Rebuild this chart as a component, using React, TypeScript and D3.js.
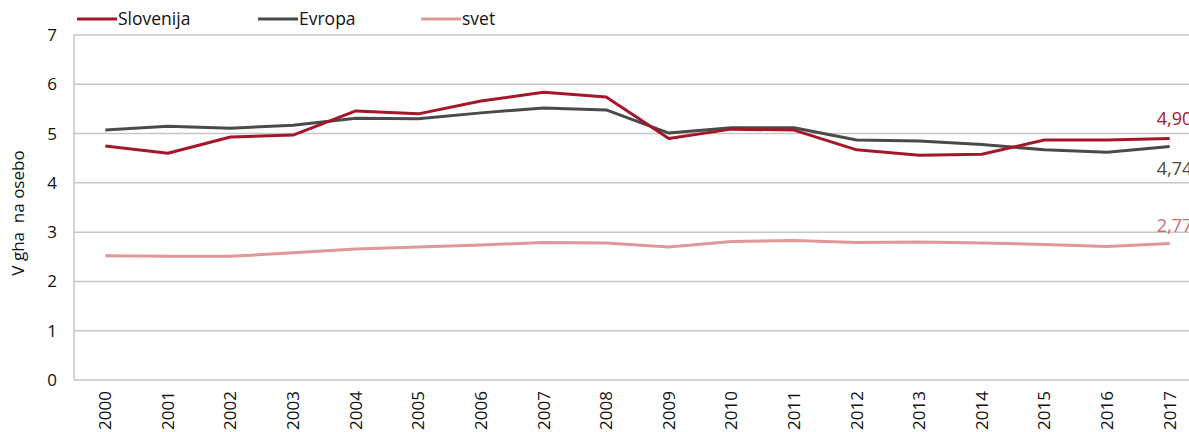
import * as d3 from "d3";
import { useEffect, useRef } from "react";

const years = ["2000", "2001", "2002", "2003", "2004", "2005", "2006", "2007", "2008", "2009", "2010", "2011", "2012", "2013", "2014", "2015", "2016", "2017"];
const slovenija = [4.75, 4.6, 4.93, 4.97, 5.46, 5.4, 5.66, 5.84, 5.74, 4.9, 5.09, 5.07, 4.67, 4.56, 4.58, 4.87, 4.87, 4.9];
const evropa = [5.07, 5.15, 5.11, 5.17, 5.31, 5.3, 5.42, 5.52, 5.48, 5.01, 5.12, 5.12, 4.87, 4.85, 4.78, 4.67, 4.62, 4.74];
const svet = [2.52, 2.51, 2.51, 2.58, 2.66, 2.7, 2.74, 2.79, 2.78, 2.7, 2.81, 2.83, 2.79, 2.8, 2.78, 2.75, 2.71, 2.77];
const yTicks = [0, 1, 2, 3, 4, 5, 6, 7];

const series = [
  { name: "Slovenija", values: slovenija, color: "#a6162b", label: "4,90", labelColor: "#a6162b", dy: -14 },
  { name: "Evropa", values: evropa, color: "#4a4a4a", label: "4,74", labelColor: "#4a4a4a", dy: 29 },
  { name: "svet", values: svet, color: "#e09898", label: "2,77", labelColor: "#d66a6a", dy: -11 },
];

const App = () => {
  const ref = useRef<SVGSVGElement | null>(null);

  useEffect(() => {
    const svg = d3.select(ref.current);
    svg.selectAll("*").remove();
    const font = "'Open Sans', 'Noto Sans', sans-serif";

    let left = 74, right = 1201, top = 35, bottom = 380;

    let x = d3.scaleBand().domain(years).range([left, right]);
    let y = d3.scaleLinear().domain([0, 7]).range([bottom, top]);
    const cx = (d: string) => (x(d) as number) + x.bandwidth() / 2;

    // gridlines
    svg.append("g")
      .selectAll("line")
      .data(yTicks)
      .enter()
      .append("line")
      .attr("x1", left)
      .attr("x2", 1189)
      .attr("y1", (d) => y(d))
      .attr("y2", (d) => y(d))
      .attr("stroke", "#c6c6c6")
      .attr("stroke-width", 1.5);

    svg.append("line")
      .attr("x1", left).attr("x2", left)
      .attr("y1", top).attr("y2", bottom)
      .attr("stroke", "#c6c6c6")
      .attr("stroke-width", 1.5);

    // y tick labels
    svg.append("g")
      .selectAll("text")
      .data(yTicks)
      .enter()
      .append("text")
      .attr("x", 57)
      .attr("y", (d) => y(d))
      .attr("dy", "0.35em")
      .attr("text-anchor", "end")
      .style("font-family", font)
      .style("font-size", "17px")
      .attr("fill", "#111")
      .text((d) => d);

    // x tick labels
    svg.append("g")
      .selectAll("text")
      .data(years)
      .enter()
      .append("text")
      .attr("transform", (d) => "translate(" + cx(d) + "," + (bottom + 11) + ")rotate(-90)")
      .attr("dy", "0.35em")
      .attr("text-anchor", "end")
      .style("font-family", font)
      .style("font-size", "17px")
      .attr("fill", "#111")
      .text((d) => d);

    // y title
    svg.append("text")
      .attr("transform", "translate(24," + 213 + ")rotate(-90)")
      .attr("text-anchor", "middle")
      .style("font-family", font)
      .style("font-size", "17px")
      .style("white-space", "pre")
      .attr("fill", "#111")
      .text("V gha  na osebo");

    const line = d3.line<number>()
      .x((d, i) => cx(years[i]))
      .y((d) => y(d));

    // draw svet first so the others sit on top
    [...series].reverse().forEach((s) => {
      svg.append("path")
        .datum(s.values)
        .attr("d", line)
        .attr("fill", "none")
        .attr("stroke", s.color)
        .attr("stroke-width", 3)
        .attr("stroke-linejoin", "round");
    });

    // end labels
    series.forEach((s) => {
      const last = s.values.length - 1;
      svg.append("text")
        .attr("x", cx(years[last]) - 13)
        .attr("y", y(s.values[last]) + s.dy)
        .style("font-family", font)
        .style("font-size", "18px")
        .attr("fill", s.labelColor)
        .text(s.label);
    });

    // legend
    const legendX = [77, 258, 421];
    series.forEach((s, i) => {
      svg.append("line")
        .attr("x1", legendX[i]).attr("x2", legendX[i] + 40)
        .attr("y1", 19).attr("y2", 19)
        .attr("stroke", s.color)
        .attr("stroke-width", 3);
      svg.append("text")
        .attr("x", legendX[i] + 41)
        .attr("y", 19)
        .attr("dy", "0.35em")
        .style("font-family", font)
        .style("font-size", "17.5px")
        .attr("fill", "#111")
        .text(s.name);
    });
  }, []);

  return (
    <svg ref={ref} width={1189} height={432}
      style={{ position: "absolute", left: 0, top: 0, background: "#fff" }} />
  );
};

export default App;
